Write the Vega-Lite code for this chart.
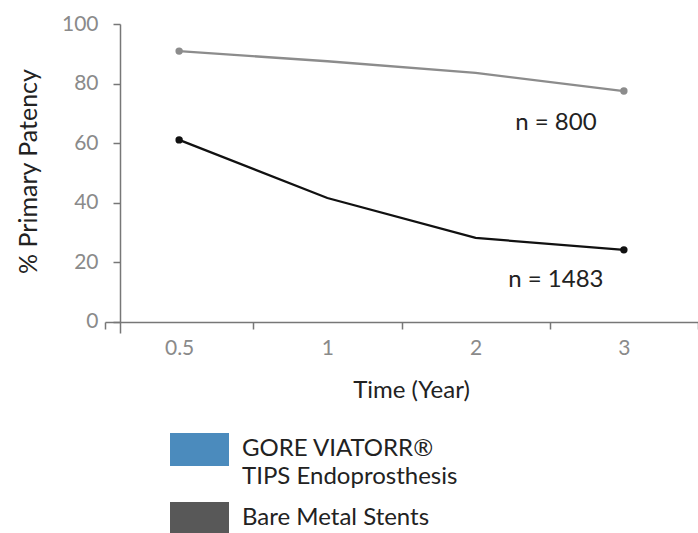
{
  "$schema": "https://vega.github.io/schema/vega-lite/v6.json",
  "width": 578,
  "height": 298,
  "autosize": "none",
  "padding": {"left": 120, "top": 24, "right": 0, "bottom": 211},
  "background": "white",
  "config": {"view": {"stroke": null}, "font": "Lato"},
  "datasets": {
    "patency": [
      {"series": "GORE VIATORR® TIPS Endoprosthesis", "time": "0.5", "patency": 90.9},
      {"series": "GORE VIATORR® TIPS Endoprosthesis", "time": "1", "patency": 87.5},
      {"series": "GORE VIATORR® TIPS Endoprosthesis", "time": "2", "patency": 83.6},
      {"series": "GORE VIATORR® TIPS Endoprosthesis", "time": "3", "patency": 77.5},
      {"series": "Bare Metal Stents", "time": "0.5", "patency": 61.1},
      {"series": "Bare Metal Stents", "time": "1", "patency": 41.6},
      {"series": "Bare Metal Stents", "time": "2", "patency": 28.2},
      {"series": "Bare Metal Stents", "time": "3", "patency": 24.2}
    ],
    "notes": [
      {"label": "n = 800", "time": "3", "patency": 66.8},
      {"label": "n = 1483", "time": "3", "patency": 14.1}
    ],
    "legendItems": [
      {"item": "GORE VIATORR® TIPS Endoprosthesis"},
      {"item": "Bare Metal Stents"}
    ]
  },
  "layer": [
    {
      "data": {"name": "patency"},
      "mark": {"type": "line", "strokeWidth": 2.3},
      "encoding": {
        "x": {
          "field": "time",
          "type": "ordinal",
          "scale": {"type": "band", "domain": ["0.5", "1", "2", "3"], "range": [-15, 578], "paddingInner": 0, "paddingOuter": 0},
          "axis": {
            "title": "Time (Year)",
            "labelAngle": 0,
            "tickBand": "extent",
            "labelFontSize": 21,
            "labelColor": "#8a8a8a",
            "labelPadding": 8,
            "tickSize": 7,
            "tickWidth": 1.5,
            "tickColor": "#777777",
            "domainColor": "#777777",
            "domainWidth": 1.5,
            "titleFontSize": 24,
            "titleFontWeight": "normal",
            "titleColor": "#222222",
            "titlePadding": 20,
            "titleX": 291,
            "grid": false
          }
        },
        "y": {
          "field": "patency",
          "type": "quantitative",
          "scale": {"domain": [-3.7, 100], "range": [309, 0], "nice": false, "zero": false},
          "axis": {
            "title": "% Primary Patency",
            "values": [0, 20, 40, 60, 80, 100],
            "labelFontSize": 21,
            "labelColor": "#8a8a8a",
            "labelPadding": 15,
            "tickSize": 7,
            "tickWidth": 1.5,
            "tickColor": "#777777",
            "domainColor": "#777777",
            "domainWidth": 1.5,
            "titleFontSize": 25,
            "titleFontWeight": "normal",
            "titleColor": "#222222",
            "titlePadding": 20,
            "titleY": 147,
            "grid": false
          }
        },
        "color": {
          "field": "series",
          "type": "nominal",
          "scale": {"range": ["#111111", "#8c8c8c"]},
          "legend": null
        }
      }
    },
    {
      "data": {"name": "patency"},
      "transform": [{"filter": {"field": "time", "oneOf": ["0.5", "3"]}}],
      "mark": {"type": "point", "filled": true, "size": 55, "opacity": 1},
      "encoding": {
        "x": {"field": "time", "type": "ordinal"},
        "y": {"field": "patency", "type": "quantitative"},
        "color": {"field": "series", "type": "nominal", "legend": null}
      }
    },
    {
      "data": {"name": "notes"},
      "mark": {"type": "text", "fontSize": 24, "color": "#222222", "dx": -68, "baseline": "middle", "align": "center"},
      "encoding": {
        "x": {"field": "time", "type": "ordinal"},
        "y": {"field": "patency", "type": "quantitative"},
        "text": {"field": "label"}
      }
    },
    {
      "data": {"name": "legendItems"},
      "mark": {"type": "square", "size": 0, "opacity": 1},
      "encoding": {
        "fill": {
          "field": "item",
          "type": "nominal",
          "scale": {"domain": ["GORE VIATORR® TIPS Endoprosthesis", "Bare Metal Stents"], "range": ["#4b8bbd", "#585858"]},
          "legend": {
            "title": null,
            "orient": "none",
            "legendX": 50,
            "legendY": 396,
            "symbolType": "M-1,-0.56H1V0.56H-1Z",
            "symbolSize": 3481,
            "symbolStrokeWidth": 0,
            "symbolOpacity": 1,
            "labelFontSize": 24,
            "labelColor": "#222222",
            "labelOffset": 13,
            "labelLimit": 500,
            "labelBaseline": "alphabetic",
            "rowPadding": -5,
            "labelExpr": "datum.label == 'Bare Metal Stents' ? datum.label : ['GORE VIATORR®', 'TIPS Endoprosthesis']",
            "encode": {"labels": {"update": {"dy": {"value": 6}, "lineHeight": {"value": 28}}}}
          }
        }
      }
    }
  ]
}
